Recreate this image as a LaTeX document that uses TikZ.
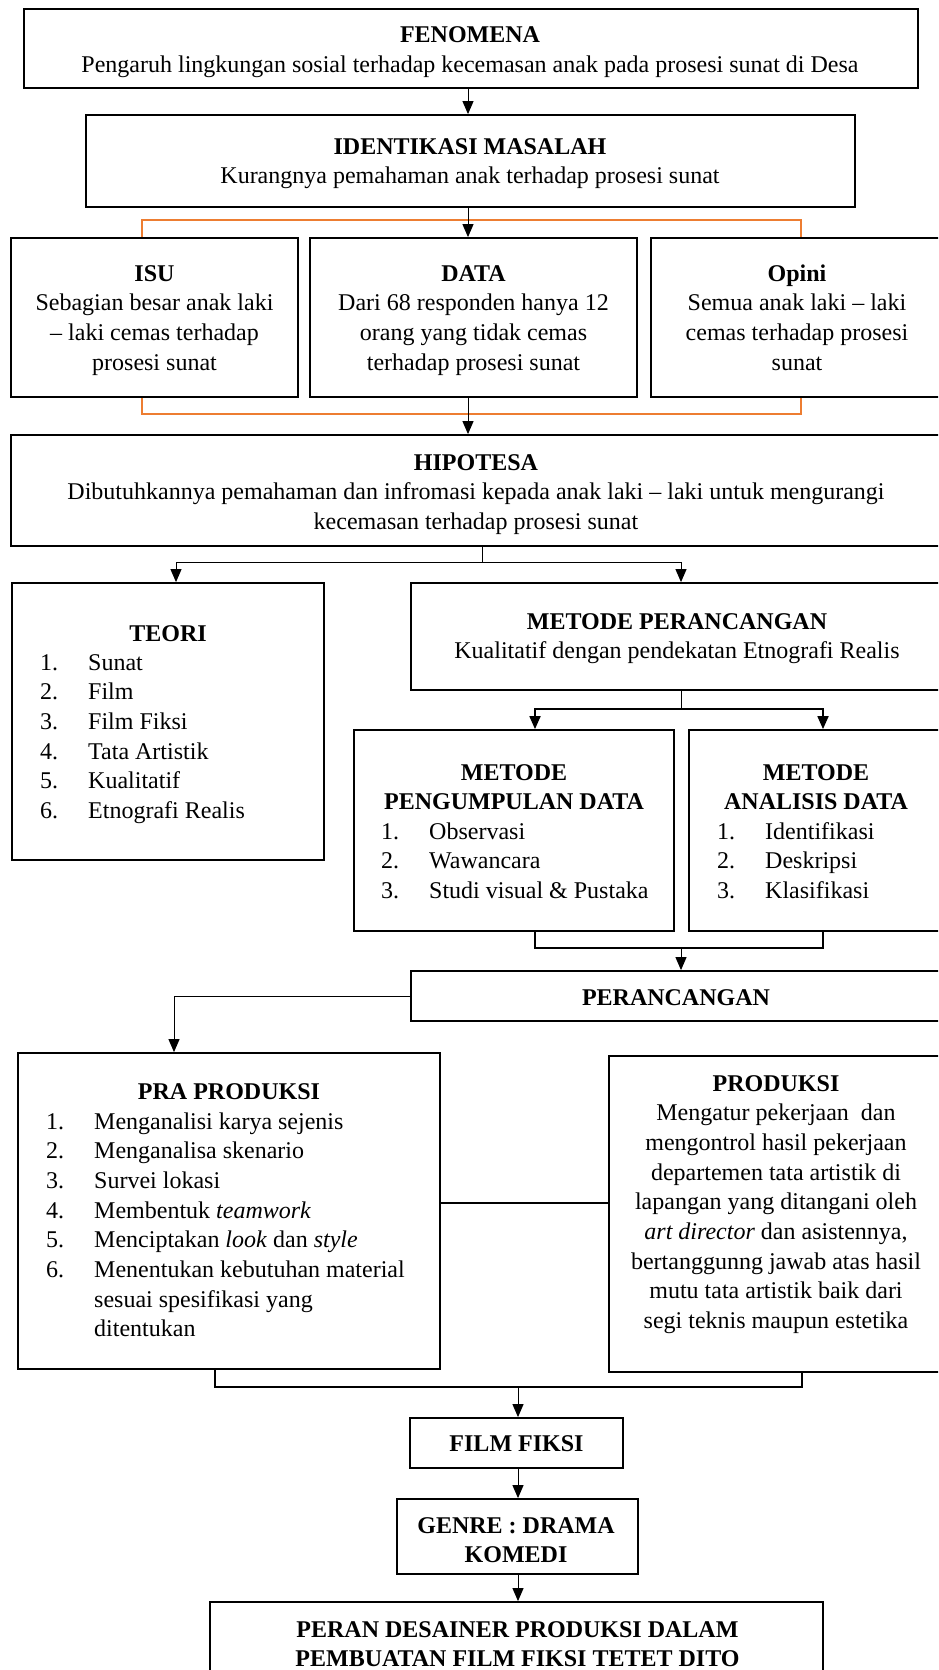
\documentclass[tikz,border=0pt]{standalone}
\usepackage{fontspec}
\setmainfont{Liberation Serif}
\usetikzlibrary{arrows.meta}
\definecolor{orangeC}{HTML}{ED7D31}
\newcommand\mytc[1]{\begin{tabular}[t]{@{}c@{}}#1\end{tabular}}
\newcommand\mylist[1]{\begin{tabular}[t]{@{}p{48pt}@{}l@{}}#1\end{tabular}}
\begin{document}
\begin{tikzpicture}[x=1pt,y=-1pt,
  box/.style={draw, line width=1.8pt, inner sep=0pt},
  txt/.style={inner sep=0pt, font=\fontsize{24}{29.7}\selectfont},
  thinl/.style={line width=1pt},
  thickl/.style={line width=1.8pt},
  obr/.style={draw=orangeC, line width=1.7pt},
  arr/.style={-{Triangle[length=13pt,width=11pt]}}]
\useasboundingbox (0,0) rectangle (938,1670);
\clip (0,0) rectangle (938,1670);
\fill[white] (0,0) rectangle (938,1670);

% ---------- boxes ----------
\node[box, minimum width=894pt, minimum height=79pt]  (fen)   at (471,48.5) {};
\node[box, minimum width=769pt, minimum height=92pt]  (idm)   at (470.5,161) {};
\node[box, minimum width=287pt, minimum height=159pt] (isu)   at (154.5,317.5) {};
\node[box, minimum width=327pt, minimum height=159pt] (data)  at (473.5,317.5) {};
\node[box, minimum width=292pt, minimum height=159pt] (opini) at (797,317.5) {};
\node[box, minimum width=930pt, minimum height=111pt] (hip)   at (476,490.5) {};
\node[box, minimum width=312pt, minimum height=277pt] (teori) at (168,721.5) {};
\node[box, minimum width=532pt, minimum height=107pt] (mp)    at (677,636.5) {};
\node[box, minimum width=320pt, minimum height=201pt] (pd)    at (514,830.5) {};
\node[box, minimum width=254pt, minimum height=201pt] (ad)    at (816,830.5) {};
\node[box, minimum width=530pt, minimum height=50pt]  (per)   at (676,996) {};
\node[box, minimum width=422pt, minimum height=316pt] (pra)   at (229,1211) {};
\node[box, minimum width=334pt, minimum height=316pt] (prod)  at (776,1214) {};
\node[box, minimum width=213pt, minimum height=50pt]  (ff)    at (516.5,1443) {};
\node[box, minimum width=241pt, minimum height=75pt]  (genre) at (517.5,1536.5) {};
\node[box, minimum width=613pt, minimum height=100pt] (peran) at (516.5,1652) {};

% ---------- texts ----------
\node[txt, anchor=base] (fenT) at (470,42.5) {\mytc{\textbf{FENOMENA}\\Pengaruh lingkungan sosial terhadap kecemasan anak pada prosesi sunat di Desa}};
\node[txt, anchor=base] (idmT) at (470,154) {\mytc{\textbf{IDENTIKASI MASALAH}\\Kurangnya pemahaman anak terhadap prosesi sunat}};
\node[txt, anchor=base] (isuT) at (154.5,281) {\mytc{\textbf{ISU}\\Sebagian besar anak laki\\– laki cemas terhadap\\prosesi sunat}};
\node[txt, anchor=base] (dataT) at (473.5,281) {\mytc{\textbf{DATA}\\Dari 68 responden hanya 12\\orang yang tidak cemas\\terhadap prosesi sunat}};
\node[txt, anchor=base] (opiniT) at (797,281) {\mytc{\textbf{Opini}\\Semua anak laki – laki\\cemas terhadap prosesi\\sunat}};
\node[txt, anchor=base] (hipT) at (476,470) {\mytc{\textbf{HIPOTESA}\\Dibutuhkannya pemahaman dan infromasi kepada anak laki – laki untuk mengurangi\\kecemasan terhadap prosesi sunat}};
\node[txt, anchor=base] (teoriH) at (168,641) {\textbf{TEORI}};
\node[txt, anchor=base west] (teoriL) at (40,670) {\mylist{1. & Sunat\\2. & Film\\3. & Film Fiksi\\4. & Tata Artistik\\5. & Kualitatif\\6. & Etnografi Realis}};
\node[txt, anchor=base] (mpT) at (677,629) {\mytc{\textbf{METODE PERANCANGAN}\\Kualitatif dengan pendekatan Etnografi Realis}};
\node[txt, anchor=base] (pdH) at (514,780) {\mytc{\textbf{METODE}\\\textbf{PENGUMPULAN DATA}}};
\node[txt, anchor=base west] (pdL) at (381,839) {\mylist{1. & Observasi\\2. & Wawancara\\3. & Studi visual \& Pustaka}};
\node[txt, anchor=base] (adH) at (816,780) {\mytc{\textbf{METODE}\\\textbf{ANALISIS DATA}}};
\node[txt, anchor=base west] (adL) at (717,839) {\mylist{1. & Identifikasi\\2. & Deskripsi\\3. & Klasifikasi}};
\node[txt, anchor=base] (perT) at (676,1005) {\textbf{PERANCANGAN}};
\node[txt, anchor=base] (praH) at (229,1099) {\textbf{PRA PRODUKSI}};
\node[txt, anchor=base west] (praL) at (46,1129) {\mylist{1. & Menganalisi karya sejenis\\2. & Menganalisa skenario\\3. & Survei lokasi\\4. & Membentuk \textit{teamwork}\\5. & Menciptakan \textit{look} dan \textit{style}\\6. & Menentukan kebutuhan material\\ & sesuai spesifikasi yang\\ & ditentukan}};
\node[txt, anchor=base] (prodT) at (776,1091) {\mytc{\textbf{PRODUKSI}\\Mengatur pekerjaan\ \ dan\\mengontrol hasil pekerjaan\\departemen tata artistik di\\lapangan yang ditangani oleh\\\textit{art director} dan asistennya,\\bertanggunng jawab atas hasil\\mutu tata artistik baik dari\\segi teknis maupun estetika}};
\node[txt, anchor=base] (ffT) at (516.5,1451) {\textbf{FILM FIKSI}};
\node[txt, anchor=base] (genreT) at (516,1533) {\mytc{\textbf{GENRE : DRAMA}\\\textbf{KOMEDI}}};
\node[txt, anchor=base] (peranT) at (517.5,1637) {\mytc{\textbf{PERAN DESAINER PRODUKSI DALAM}\\\textbf{PEMBUATAN FILM FIKSI TETET DITO}}};

% ---------- orange bracket ----------
\coordinate (oL) at (142,220);
\coordinate (oR) at (801,414);
\draw[obr] (oL |- isu.north) -- (oL) -| (oR |- opini.north);
\draw[obr] (oL |- isu.south) |- (oR) -- (oR |- opini.south);

% ---------- connectors ----------
\coordinate (c1) at (468,0);
\draw[thinl,arr] (c1 |- fen.south) -- (c1 |- idm.north);
\draw[thinl,arr] (c1 |- idm.south) -- (c1 |- data.north);
\draw[thinl,arr] (c1 |- data.south) -- (c1 |- hip.north);

\coordinate (h1) at (482,562);
\coordinate (tA) at (176,0);
\coordinate (mA) at (681,0);
\draw[thinl] (h1 |- hip.south) -- (h1);
\draw[thinl,arr] (h1) -| (tA |- teori.north);
\draw[thinl,arr] (h1) -| (mA |- mp.north);

\coordinate (m1) at (681,709);
\coordinate (pA) at (535,709);
\coordinate (aA) at (823,709);
\draw[thinl] (m1 |- mp.south) -- (m1);
\draw[thickl,arr] (m1) -- (pA) -- (pA |- pd.north);
\draw[thickl,arr] (m1) -- (aA) -- (aA |- ad.north);

\coordinate (b1) at (535,948);
\coordinate (b2) at (823,948);
\coordinate (b3) at (681,948);
\draw[thickl] (b1 |- pd.south) -- (b1) -- (b2) -- (b2 |- ad.south);
\draw[thinl,arr] (b3) -- (b3 |- per.north);

\coordinate (pr) at (174,0);
\draw[thinl,arr] (per.west) -| (pr |- pra.north);

\coordinate (k) at (0,1203);
\draw[thickl] (pra.east |- k) -- (prod.west |- k);

\coordinate (d1) at (215,1387);
\coordinate (d2) at (802,1387);
\coordinate (d3) at (518,1387);
\draw[thickl] (d1 |- pra.south) -- (d1) -- (d2) -- (d2 |- prod.south);
\draw[thinl,arr] (d3) -- (d3 |- ff.north);
\draw[thinl,arr] (d3 |- ff.south) -- (d3 |- genre.north);
\draw[thinl,arr] (d3 |- genre.south) -- (d3 |- peran.north);
\end{tikzpicture}
\end{document}
